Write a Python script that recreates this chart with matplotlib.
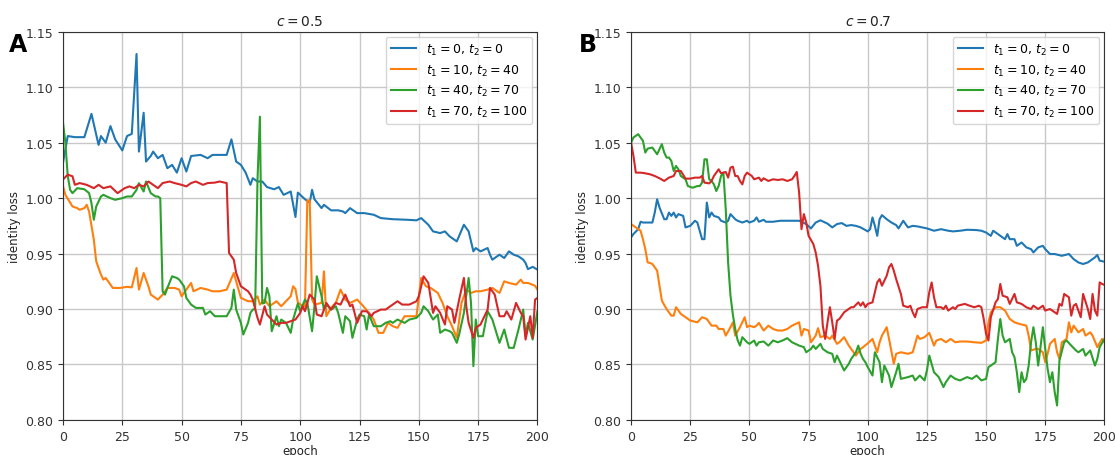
import matplotlib
matplotlib.use("Agg")
import matplotlib.pyplot as plt

# ---------------- Panel A (c = 0.5) ----------------
a_blue_x = [0, 2, 5, 9, 12, 15, 16, 18, 20, 22, 25, 27, 29, 31, 32, 34, 35, 37, 38, 40, 42, 44, 46, 48, 50, 52, 54, 58, 61, 63, 69, 71, 73, 75, 77, 79, 80, 82, 84, 86, 89, 91, 93, 96, 98, 99, 102, 104, 105, 106, 109, 110, 113, 116, 118, 119, 121, 124, 127, 131, 134, 139, 145, 149, 151, 154, 156, 159, 161, 163, 166, 169, 171, 173, 174, 176, 179, 180, 181, 184, 186, 188, 190, 192, 194, 195, 196, 198, 200]
a_blue_y = [1.032, 1.056, 1.055, 1.055, 1.076, 1.048, 1.056, 1.050, 1.065, 1.053, 1.043, 1.056, 1.058, 1.130, 1.042, 1.077, 1.033, 1.038, 1.042, 1.036, 1.039, 1.027, 1.030, 1.023, 1.036, 1.024, 1.038, 1.039, 1.036, 1.039, 1.039, 1.053, 1.033, 1.030, 1.023, 1.012, 1.018, 1.015, 1.015, 1.010, 1.008, 1.010, 1.003, 1.006, 0.983, 1.005, 0.999, 0.996, 1.0075, 0.999, 0.991, 0.994, 0.989, 0.989, 0.988, 0.9865, 0.991, 0.9865, 0.9865, 0.985, 0.982, 0.981, 0.9805, 0.980, 0.982, 0.976, 0.970, 0.9685, 0.970, 0.9655, 0.961, 0.976, 0.970, 0.952, 0.955, 0.952, 0.955, 0.949, 0.9445, 0.949, 0.946, 0.952, 0.949, 0.9475, 0.9445, 0.9415, 0.936, 0.938, 0.9355]

a_orange_x = [0, 1, 4, 6, 7, 9, 10, 11, 13, 14, 16, 17, 18, 21, 24, 27, 29, 31, 32, 34, 36, 37, 40, 42, 44, 47, 49, 50, 52, 54, 55, 58, 61, 63, 66, 69, 72, 73, 75, 78, 80, 82, 83, 85, 87, 90, 92, 94, 96, 97, 98, 99, 101, 102, 103, 104, 105, 106, 109, 110, 111, 113, 115, 117, 119, 121, 124, 126, 129, 131, 133, 135, 137, 139, 141, 144, 146, 149, 151, 153, 155, 158, 160, 162, 164, 166, 168, 170, 172, 174, 176, 179, 181, 184, 186, 188, 191, 193, 194, 196, 199, 200]
a_orange_y = [1.011, 1.003, 0.9925, 0.991, 0.9895, 0.991, 0.994, 0.988, 0.9625, 0.943, 0.931, 0.9265, 0.928, 0.919, 0.919, 0.920, 0.9195, 0.937, 0.9175, 0.9325, 0.9205, 0.913, 0.9085, 0.913, 0.919, 0.919, 0.9175, 0.9115, 0.9175, 0.9235, 0.916, 0.919, 0.9175, 0.916, 0.916, 0.9175, 0.9325, 0.925, 0.910, 0.907, 0.907, 0.9115, 0.904, 0.9085, 0.9025, 0.907, 0.9025, 0.907, 0.9115, 0.9205, 0.918, 0.906, 0.9025, 0.9025, 0.998, 0.998, 0.9085, 0.904, 0.9055, 0.934, 0.8935, 0.901, 0.9055, 0.9175, 0.9085, 0.9055, 0.9085, 0.904, 0.8965, 0.8905, 0.8785, 0.8785, 0.8875, 0.8845, 0.883, 0.8935, 0.8935, 0.8935, 0.928, 0.9205, 0.919, 0.9145, 0.9055, 0.8935, 0.8845, 0.874, 0.9055, 0.9175, 0.9145, 0.916, 0.916, 0.9175, 0.919, 0.9145, 0.925, 0.9235, 0.922, 0.9265, 0.9235, 0.9235, 0.921, 0.9175]

a_green_x = [0, 1, 2, 3, 4, 6, 9, 11, 12, 13, 14, 16, 17, 20, 22, 25, 27, 29, 31, 32, 34, 35, 37, 39, 40, 41, 42, 43, 44, 46, 48, 49, 51, 52, 54, 56, 59, 60, 62, 64, 66, 69, 71, 72, 73, 75, 76, 78, 79, 80, 81, 82, 83, 84, 85, 86, 87, 88, 90, 91, 92, 94, 96, 97, 99, 100, 102, 103, 105, 106, 107, 109, 110, 111, 113, 115, 116, 118, 119, 121, 122, 124, 125, 127, 128, 129, 131, 134, 136, 138, 139, 141, 144, 146, 149, 151, 152, 154, 156, 158, 159, 161, 163, 164, 166, 167, 169, 171, 172, 173, 174, 175, 177, 179, 181, 184, 186, 188, 190, 192, 194, 195, 196, 198, 200]
a_green_y = [1.068, 1.050, 1.020, 1.0075, 1.0045, 1.009, 1.008, 1.0045, 0.9955, 0.9805, 0.9925, 1.0015, 1.003, 1.000, 0.9985, 1.000, 1.0015, 1.0015, 1.0075, 1.0135, 1.006, 1.015, 1.0045, 1.0015, 1.0015, 1.000, 0.916, 0.913, 0.919, 0.9295, 0.928, 0.9265, 0.9205, 0.910, 0.904, 0.901, 0.901, 0.895, 0.898, 0.8935, 0.8935, 0.8935, 0.901, 0.9175, 0.8995, 0.8875, 0.877, 0.8875, 0.8965, 0.8995, 0.900, 1.017, 1.0735, 0.905, 0.9055, 0.919, 0.9115, 0.880, 0.8935, 0.8845, 0.8905, 0.8875, 0.8785, 0.8905, 0.905, 0.898, 0.9085, 0.9055, 0.880, 0.9025, 0.9295, 0.9115, 0.8995, 0.904, 0.8995, 0.9025, 0.8965, 0.8785, 0.8935, 0.889, 0.874, 0.8905, 0.895, 0.8935, 0.8815, 0.895, 0.8845, 0.8845, 0.8875, 0.889, 0.8875, 0.8905, 0.8875, 0.8905, 0.892, 0.8965, 0.9025, 0.898, 0.8905, 0.895, 0.8785, 0.8815, 0.880, 0.8785, 0.8695, 0.877, 0.8965, 0.928, 0.9055, 0.8485, 0.8905, 0.8755, 0.8755, 0.898, 0.8905, 0.8695, 0.8815, 0.865, 0.865, 0.8815, 0.8995, 0.8755, 0.8875, 0.8725, 0.898]

a_red_x = [0, 2, 4, 5, 7, 10, 13, 15, 17, 20, 23, 26, 28, 30, 32, 34, 36, 38, 40, 42, 45, 47, 50, 52, 54, 56, 59, 61, 64, 66, 69, 70, 71, 72, 73, 74, 75, 78, 79, 80, 82, 83, 85, 86, 88, 90, 92, 94, 96, 98, 99, 100, 101, 102, 104, 106, 107, 109, 111, 113, 115, 117, 119, 121, 122, 124, 126, 128, 130, 131, 134, 136, 139, 141, 143, 146, 149, 150, 152, 154, 156, 157, 159, 161, 162, 164, 165, 167, 169, 170, 171, 173, 174, 176, 179, 180, 182, 184, 186, 187, 189, 191, 193, 194, 195, 197, 198, 199, 200]
a_red_y = [1.0168, 1.0212, 1.0197, 1.012, 1.0136, 1.012, 1.009, 1.012, 1.009, 1.0106, 1.0045, 1.009, 1.0106, 1.009, 1.012, 1.0106, 1.015, 1.012, 1.009, 1.0136, 1.015, 1.0136, 1.012, 1.0106, 1.0136, 1.015, 1.012, 1.0136, 1.014, 1.015, 1.0136, 0.9505, 0.9475, 0.9445, 0.9325, 0.9265, 0.9205, 0.916, 0.913, 0.9085, 0.892, 0.886, 0.9025, 0.895, 0.8905, 0.886, 0.8875, 0.8875, 0.889, 0.8905, 0.8935, 0.8965, 0.9025, 0.898, 0.913, 0.9085, 0.895, 0.8935, 0.9055, 0.8995, 0.9055, 0.904, 0.913, 0.9025, 0.904, 0.8875, 0.898, 0.898, 0.8935, 0.8965, 0.8995, 0.8995, 0.904, 0.907, 0.904, 0.904, 0.907, 0.9115, 0.9295, 0.9235, 0.8965, 0.9025, 0.8965, 0.886, 0.9025, 0.8995, 0.8875, 0.9085, 0.928, 0.9025, 0.8875, 0.874, 0.883, 0.886, 0.8995, 0.919, 0.913, 0.8935, 0.8935, 0.898, 0.8905, 0.9055, 0.8965, 0.8935, 0.8725, 0.8935, 0.874, 0.9085, 0.910]

# ---------------- Panel B (c = 0.7) ----------------
b_blue_x = [0, 1, 3, 4, 5, 7, 9, 10, 11, 12, 14, 15, 16, 17, 18, 19, 20, 22, 23, 25, 27, 28, 30, 31, 32, 33, 34, 35, 37, 38, 40, 41, 42, 44, 45, 47, 49, 50, 52, 53, 54, 56, 57, 60, 63, 66, 69, 71, 74, 76, 78, 80, 83, 85, 87, 89, 91, 93, 95, 97, 100, 101, 102, 103, 104, 105, 106, 108, 110, 112, 113, 115, 117, 119, 121, 123, 125, 128, 131, 134, 136, 139, 142, 146, 148, 150, 152, 153, 155, 158, 159, 160, 162, 163, 165, 167, 169, 170, 172, 174, 175, 177, 179, 182, 185, 187, 189, 191, 193, 196, 197, 198, 200]
b_blue_y = [0.9646, 0.9676, 0.972, 0.9787, 0.978, 0.978, 0.978, 0.987, 0.999, 0.9916, 0.981, 0.981, 0.987, 0.984, 0.987, 0.9826, 0.9856, 0.984, 0.9736, 0.975, 0.9796, 0.978, 0.963, 0.963, 0.996, 0.9826, 0.987, 0.984, 0.9826, 0.9796, 0.978, 0.9796, 0.9856, 0.981, 0.9796, 0.978, 0.9796, 0.978, 0.9796, 0.9826, 0.9787, 0.9805, 0.9787, 0.9787, 0.9796, 0.9796, 0.9796, 0.9796, 0.9766, 0.9727, 0.978, 0.980, 0.977, 0.9736, 0.9766, 0.9775, 0.975, 0.9757, 0.975, 0.9736, 0.970, 0.972, 0.9826, 0.975, 0.966, 0.981, 0.9847, 0.981, 0.978, 0.9757, 0.9727, 0.9796, 0.9736, 0.975, 0.9745, 0.9736, 0.9727, 0.9706, 0.972, 0.9706, 0.970, 0.9706, 0.9715, 0.9712, 0.9706, 0.969, 0.966, 0.9706, 0.9676, 0.963, 0.9676, 0.963, 0.963, 0.957, 0.960, 0.9556, 0.954, 0.951, 0.9556, 0.957, 0.954, 0.9496, 0.9496, 0.948, 0.9496, 0.945, 0.942, 0.9406, 0.942, 0.9466, 0.9487, 0.9436, 0.9427]

b_orange_x = [0, 2, 4, 5, 6, 7, 8, 9, 11, 12, 13, 14, 15, 17, 18, 19, 21, 23, 25, 28, 30, 32, 34, 36, 37, 39, 40, 42, 43, 44, 46, 48, 49, 50, 52, 53, 54, 56, 58, 60, 62, 64, 66, 68, 71, 72, 73, 75, 76, 78, 79, 80, 82, 84, 85, 87, 88, 90, 92, 94, 95, 97, 98, 100, 102, 104, 105, 106, 108, 109, 111, 112, 114, 117, 119, 121, 122, 124, 126, 128, 129, 131, 133, 135, 137, 139, 142, 145, 148, 150, 151, 152, 154, 156, 158, 160, 162, 164, 167, 168, 169, 171, 172, 174, 175, 176, 177, 179, 180, 181, 182, 184, 185, 186, 187, 189, 191, 192, 194, 195, 197, 199, 200]
b_orange_y = [0.9766, 0.9736, 0.9706, 0.963, 0.954, 0.942, 0.9415, 0.9406, 0.9346, 0.921, 0.9076, 0.9037, 0.900, 0.894, 0.894, 0.9016, 0.8956, 0.8926, 0.8896, 0.888, 0.8926, 0.891, 0.885, 0.885, 0.882, 0.882, 0.876, 0.8836, 0.888, 0.876, 0.8836, 0.8926, 0.8836, 0.885, 0.8836, 0.885, 0.8875, 0.8806, 0.885, 0.882, 0.8806, 0.8806, 0.882, 0.885, 0.888, 0.876, 0.882, 0.8806, 0.870, 0.876, 0.8827, 0.8746, 0.876, 0.873, 0.876, 0.8686, 0.870, 0.8746, 0.867, 0.861, 0.858, 0.864, 0.8656, 0.869, 0.873, 0.861, 0.870, 0.876, 0.8836, 0.873, 0.8506, 0.8596, 0.861, 0.8596, 0.861, 0.876, 0.873, 0.8746, 0.8785, 0.867, 0.8716, 0.873, 0.870, 0.873, 0.870, 0.8707, 0.8707, 0.870, 0.8695, 0.8716, 0.888, 0.897, 0.9016, 0.9016, 0.8986, 0.891, 0.888, 0.8866, 0.885, 0.876, 0.8626, 0.864, 0.864, 0.861, 0.852, 0.8596, 0.8686, 0.873, 0.861, 0.855, 0.870, 0.873, 0.888, 0.879, 0.885, 0.879, 0.882, 0.876, 0.879, 0.876, 0.8656, 0.873, 0.870]

b_green_x = [0, 1, 3, 4, 5, 6, 7, 9, 10, 11, 13, 14, 15, 16, 17, 18, 19, 20, 21, 23, 24, 26, 28, 29, 30, 31, 32, 33, 34, 35, 36, 37, 38, 39, 40, 41, 42, 43, 44, 45, 46, 47, 49, 50, 52, 53, 54, 56, 58, 60, 62, 64, 66, 68, 71, 73, 74, 76, 77, 78, 80, 81, 83, 85, 86, 87, 88, 90, 92, 93, 95, 96, 97, 98, 99, 100, 102, 103, 105, 106, 107, 109, 110, 112, 113, 114, 117, 119, 120, 122, 124, 125, 126, 128, 130, 132, 133, 135, 137, 139, 142, 144, 146, 148, 150, 151, 152, 154, 155, 156, 157, 158, 160, 161, 162, 163, 164, 165, 166, 167, 168, 169, 170, 171, 172, 173, 174, 175, 176, 177, 178, 179, 180, 181, 183, 184, 186, 188, 189, 191, 192, 194, 196, 197, 198, 200]
b_green_y = [1.050, 1.0547, 1.0577, 1.0547, 1.0517, 1.0411, 1.0447, 1.0456, 1.0426, 1.0396, 1.0487, 1.0411, 1.0366, 1.0366, 1.0336, 1.0245, 1.029, 1.026, 1.020, 1.017, 1.0109, 1.0094, 1.0109, 1.0109, 1.014, 1.035, 1.035, 1.017, 1.0155, 1.0124, 1.0064, 1.0109, 1.020, 1.023, 0.990, 0.942, 0.912, 0.895, 0.882, 0.872, 0.867, 0.8746, 0.870, 0.8686, 0.8716, 0.867, 0.870, 0.8707, 0.867, 0.8716, 0.870, 0.8716, 0.8737, 0.870, 0.867, 0.8656, 0.861, 0.864, 0.867, 0.864, 0.8686, 0.864, 0.861, 0.8596, 0.852, 0.858, 0.8536, 0.8446, 0.8506, 0.855, 0.861, 0.867, 0.8596, 0.855, 0.852, 0.8476, 0.840, 0.861, 0.852, 0.834, 0.849, 0.840, 0.8296, 0.843, 0.8506, 0.837, 0.8386, 0.840, 0.8356, 0.840, 0.8356, 0.8446, 0.858, 0.843, 0.8386, 0.8296, 0.834, 0.840, 0.837, 0.8356, 0.8386, 0.837, 0.840, 0.8356, 0.837, 0.8476, 0.849, 0.852, 0.873, 0.891, 0.876, 0.870, 0.873, 0.861, 0.8566, 0.843, 0.825, 0.843, 0.834, 0.837, 0.849, 0.870, 0.8836, 0.870, 0.849, 0.8656, 0.8836, 0.864, 0.846, 0.834, 0.843, 0.825, 0.813, 0.8536, 0.870, 0.8716, 0.867, 0.8626, 0.861, 0.864, 0.858, 0.8626, 0.849, 0.855, 0.8656, 0.873]

b_red_x = [0, 1, 2, 4, 6, 8, 10, 12, 14, 16, 18, 19, 21, 23, 25, 27, 29, 30, 31, 33, 34, 35, 37, 38, 40, 41, 42, 43, 44, 45, 46, 47, 48, 49, 51, 52, 54, 55, 56, 58, 60, 62, 64, 66, 68, 69, 70, 71, 72, 73, 74, 75, 77, 78, 79, 80, 81, 82, 83, 84, 85, 86, 87, 88, 90, 91, 93, 94, 96, 97, 98, 99, 100, 102, 104, 105, 106, 108, 109, 110, 111, 112, 114, 115, 117, 118, 119, 120, 121, 123, 125, 126, 127, 128, 129, 131, 132, 133, 134, 136, 137, 138, 141, 143, 145, 147, 148, 149, 150, 151, 152, 154, 155, 156, 157, 159, 160, 162, 163, 165, 167, 169, 170, 172, 174, 175, 177, 179, 180, 181, 182, 183, 185, 186, 187, 188, 190, 191, 193, 194, 195, 196, 197, 198, 199, 200]
b_red_y = [1.050, 1.038, 1.023, 1.023, 1.0224, 1.0215, 1.020, 1.0179, 1.0155, 1.0185, 1.020, 1.0245, 1.0245, 1.0176, 1.0176, 1.0185, 1.0185, 1.020, 1.014, 1.0133, 1.0155, 1.020, 1.026, 1.0224, 1.0236, 1.0185, 1.0275, 1.0284, 1.020, 1.020, 1.0155, 1.0124, 1.020, 1.023, 1.020, 1.017, 1.0185, 1.0155, 1.0179, 1.0155, 1.017, 1.0164, 1.017, 1.0155, 1.017, 1.020, 1.0236, 1.005, 0.972, 0.9856, 0.978, 0.966, 0.9586, 0.951, 0.939, 0.921, 0.885, 0.873, 0.888, 0.9016, 0.888, 0.873, 0.8896, 0.891, 0.897, 0.8986, 0.9016, 0.9016, 0.906, 0.903, 0.906, 0.9016, 0.9046, 0.906, 0.924, 0.927, 0.921, 0.930, 0.9376, 0.9406, 0.9346, 0.927, 0.9136, 0.903, 0.9016, 0.903, 0.897, 0.8926, 0.900, 0.9016, 0.9016, 0.915, 0.924, 0.9106, 0.9016, 0.9016, 0.900, 0.903, 0.8986, 0.9016, 0.900, 0.903, 0.9046, 0.903, 0.9016, 0.903, 0.9016, 0.891, 0.8776, 0.8716, 0.8926, 0.906, 0.909, 0.9226, 0.912, 0.9106, 0.9046, 0.9136, 0.906, 0.9046, 0.9016, 0.900, 0.903, 0.900, 0.903, 0.8986, 0.900, 0.897, 0.8956, 0.9046, 0.903, 0.9136, 0.9106, 0.894, 0.903, 0.9046, 0.8926, 0.9136, 0.900, 0.891, 0.9136, 0.8986, 0.894, 0.924, 0.9226, 0.9218]

labels = [r"$t_1=0,\, t_2=0$", r"$t_1=10,\, t_2=40$", r"$t_1=40,\, t_2=70$", r"$t_1=70,\, t_2=100$"]
titles = [r"$c=0.5$", r"$c=0.7$"]
panel_letters = ["A", "B"]
xticks = [0, 25, 50, 75, 100, 125, 150, 175, 200]
yticks = [0.80, 0.85, 0.90, 0.95, 1.00, 1.05, 1.10, 1.15]
colors = ["#1f77b4", "#ff7f0e", "#2ca02c", "#d62728"]

panels = [
    [(a_blue_x, a_blue_y), (a_orange_x, a_orange_y), (a_green_x, a_green_y), (a_red_x, a_red_y)],
    [(b_blue_x, b_blue_y), (b_orange_x, b_orange_y), (b_green_x, b_green_y), (b_red_x, b_red_y)],
]

fig = plt.figure(figsize=(11.15, 4.56), dpi=100)
ax_pos = [[0.0565, 0.077, 0.4255, 0.851], [0.566, 0.077, 0.4245, 0.851]]
letter_x = [0.008, 0.519]

for i in range(2):
    ax = fig.add_axes(ax_pos[i])
    for (xs, ys), c, lab in zip(panels[i], colors, labels):
        ax.plot(xs, ys, color=c, lw=1.5, label=lab)
    ax.set_xlim(0, 200)
    ax.set_ylim(0.80, 1.15)
    ax.set_xticks(xticks)
    ax.set_yticks(yticks)
    ax.set_yticklabels([f"{v:.2f}" for v in yticks])
    ax.tick_params(labelsize=9, colors="#333333", length=3.5)
    ax.grid(True, color="#c8c8c8", lw=1.0)
    ax.set_axisbelow(True)
    for sp in ax.spines.values():
        sp.set_color("#333333")
    ax.set_title(titles[i], fontsize=10, color="#222222", pad=5)
    ax.set_xlabel("epoch", fontsize=8.5, labelpad=1, color="#222222")
    ax.set_ylabel("identity loss", fontsize=8.5, labelpad=3, color="#222222")
    ax.legend(loc="upper right", fontsize=9, framealpha=0.8, borderaxespad=0.4,
              handlelength=2.0, labelspacing=0.45)
    fig.text(letter_x[i], 0.885, panel_letters[i], fontsize=17, fontweight="bold")

fig.savefig("out.png", dpi=100)
